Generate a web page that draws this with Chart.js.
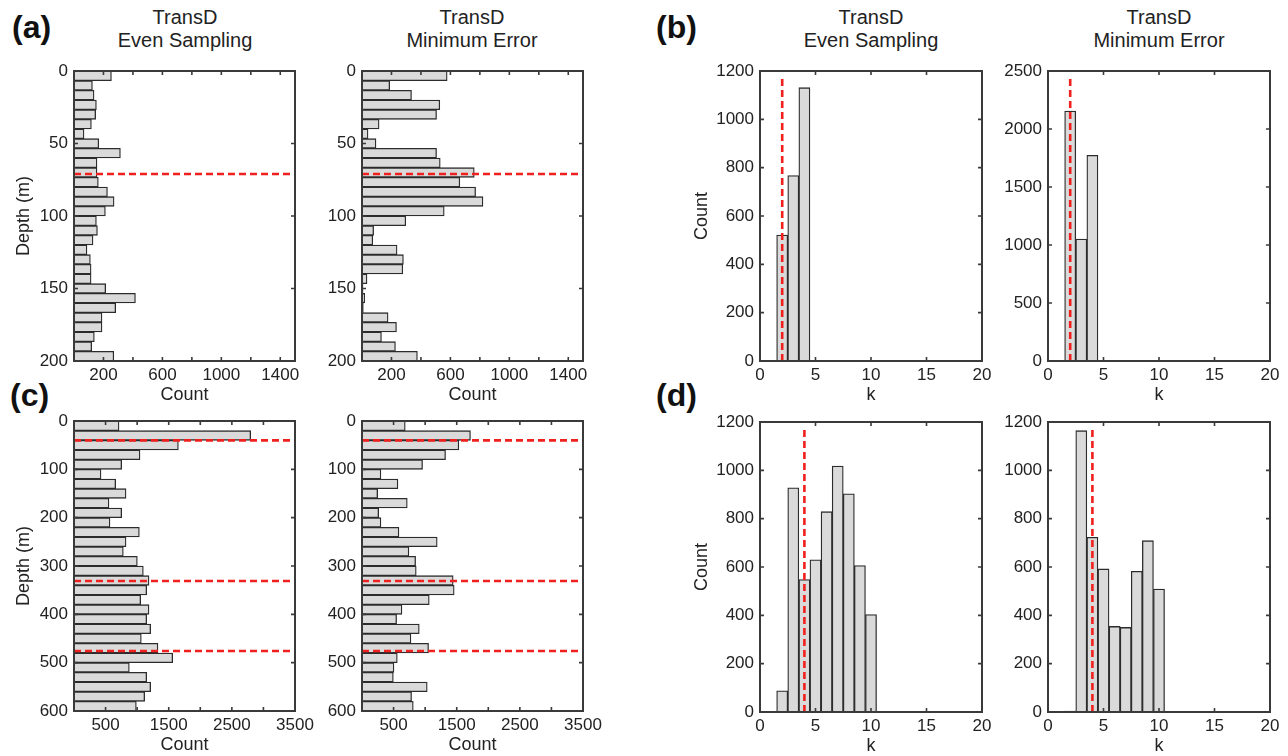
<!doctype html>
<html lang="en-US">

<head>
    <meta charset="UTF-8" />
    <title>TransD histograms</title>
    <script src="https://cdn.jsdelivr.net/npm/chart.js"></script>
    <style>
        body { margin: 0; background: #fff; }
        #fig { position: relative; width: 1288px; height: 756px; background: #fff; overflow: hidden;
               font-family: 'Liberation Sans', Arial, sans-serif; color: #222; }
        #fig canvas { position: absolute; }
        .lab { position: absolute; font-weight: bold; font-size: 32px; line-height: 36px; color: #111; }
        .ttl { position: absolute; top: 6px; transform: translateX(-50%); font-size: 20px;
               line-height: 23px; text-align: center; white-space: nowrap; }
    </style>
</head>

<body>
    <div id="fig">
        <div class="lab" style="left:12px;top:9px">(a)</div>
        <div class="lab" style="left:656px;top:9px">(b)</div>
        <div class="lab" style="left:10px;top:377px">(c)</div>
        <div class="lab" style="left:656px;top:377px">(d)</div>
        <div class="ttl" style="left:185px">TransD<br>Even Sampling</div>
        <div class="ttl" style="left:472px">TransD<br>Minimum Error</div>
        <div class="ttl" style="left:871px">TransD<br>Even Sampling</div>
        <div class="ttl" style="left:1159px">TransD<br>Minimum Error</div>
    </div>

    <script>
        // (a) depth histograms, 0-200 m, 30 bins (bin centres)
        const depthBinsA = [3.33, 10, 16.67, 23.33, 30, 36.67, 43.33, 50, 56.67, 63.33,
            70, 76.67, 83.33, 90, 96.67, 103.33, 110, 116.67, 123.33, 130,
            136.67, 143.33, 150, 156.67, 163.33, 170, 176.67, 183.33, 190, 196.67];
        const evenCountsA = [254, 125, 136, 152, 147, 118, 68, 168, 315, 156,
            156, 165, 227, 272, 213, 152, 159, 129, 88, 111,
            116, 116, 215, 417, 283, 190, 190, 138, 120, 270];
        const minErrCountsA = [578, 188, 336, 528, 506, 116, 41, 95, 506, 531,
            762, 664, 771, 821, 558, 297, 79, 73, 238, 281,
            277, 34, 7, 18, 9, 177, 234, 132, 227, 376];
        const interfacesA = [71];

        // (c) depth histograms, 0-600 m, 30 bins
        const depthBinsC = [10, 30, 50, 70, 90, 110, 130, 150, 170, 190,
            210, 230, 250, 270, 290, 310, 330, 350, 370, 390,
            410, 430, 450, 470, 490, 510, 530, 550, 570, 590];
        const evenCountsC = [713, 2798, 1653, 1045, 755, 428, 660, 824, 554, 755,
            570, 1035, 824, 781, 1003, 1098, 1188, 1151, 1056, 1188,
            1151, 1214, 1066, 1330, 1563, 876, 1151, 1214, 1119, 987];
        const minErrCountsC = [685, 1718, 1534, 1323, 959, 300, 569, 248, 717, 264,
            300, 585, 1191, 743, 849, 859, 1444, 1460, 1065, 633,
            548, 907, 775, 1054, 559, 506, 496, 1033, 785, 812];
        const interfacesC = [40, 331, 476];

        // (b) and (d) number of layers k
        const kBinsB = [2, 3, 4];
        const evenCountsB = [521, 767, 1131];
        const minErrCountsB = [2155, 1052, 1773];
        const trueKB = 2;

        const kBinsD = [2, 3, 4, 5, 6, 7, 8, 9, 10];
        const evenCountsD = [88, 928, 548, 630, 829, 1018, 903, 606, 403];
        const minErrCountsD = [4, 1164, 723, 592, 354, 350, 582, 709, 509];
        const trueKD = 4;

        const FONT = "'Liberation Sans', Arial, sans-serif";
        const TXT = '#222';
        const RED = '#f0201e';
        const L = 70, T = 14, R = 25, B = 48;

        // box round the plot with inward ticks on all four sides
        const framePlugin = {
            id: 'frame',
            afterDatasetsDraw(chart) {
                const { ctx, chartArea: a, scales: { x, y } } = chart;
                ctx.save();
                ctx.strokeStyle = '#3a3a3a';
                ctx.lineWidth = 1.6;
                ctx.beginPath();
                for (let t of x.ticks) {
                    let px = x.getPixelForValue(t.value);
                    ctx.moveTo(px, a.bottom); ctx.lineTo(px, a.bottom - 4);
                    ctx.moveTo(px, a.top); ctx.lineTo(px, a.top + 4);
                }
                for (let t of y.ticks) {
                    let py = y.getPixelForValue(t.value);
                    ctx.moveTo(a.left, py); ctx.lineTo(a.left + 4, py);
                    ctx.moveTo(a.right, py); ctx.lineTo(a.right - 4, py);
                }
                ctx.stroke();
                ctx.lineWidth = 2;
                ctx.strokeRect(a.left, a.top, a.right - a.left, a.bottom - a.top);
                ctx.restore();
            },
        };

        function axis(o) {
            return {
                type: 'linear',
                min: o.min,
                max: o.max,
                offset: false,
                reverse: !!o.reverse,
                grid: { display: false, drawTicks: false, offset: false },
                border: { display: false },
                ticks: {
                    stepSize: o.step,
                    includeBounds: false,
                    autoSkip: false,
                    maxRotation: 0,
                    padding: o.pad,
                    color: TXT,
                    font: { family: FONT, size: 17 },
                    callback: o.label || ((v) => String(v)),
                },
                title: {
                    display: !!o.title,
                    text: o.title,
                    color: TXT,
                    font: { family: FONT, size: 18 },
                    padding: o.titlePad,
                },
                afterFit: o.fit,
            };
        }

        function xAxis(o) {
            return axis(Object.assign({
                pad: 4,
                titlePad: { top: 0, bottom: 3 },
                fit: (s) => { s.height = B; s.paddingLeft = 0; s.paddingRight = 0; },
            }, o));
        }

        function yAxis(o) {
            return axis(Object.assign({
                pad: 6,
                fit: (s) => { s.width = L; s.paddingTop = 0; s.paddingBottom = 0; },
            }, o));
        }

        function barSet(data, horizontal) {
            return {
                type: 'bar',
                indexAxis: horizontal ? 'y' : 'x',
                data: data,
                backgroundColor: '#dadada',
                borderColor: '#2c2c2c',
                borderWidth: 1.3,
                borderSkipped: false,
                barPercentage: 1,
                categoryPercentage: 1,
                order: 2,
            };
        }

        function redLine(pts) {
            return {
                type: 'line',
                data: pts,
                borderColor: RED,
                borderWidth: 2.6,
                borderDash: [7, 4],
                pointRadius: 0,
                fill: false,
                order: 1,
            };
        }

        function makePanel(left, top, w, h, datasets, scales) {
            let c = document.createElement('canvas');
            c.width = w + L + R;
            c.height = h + T + B;
            c.style.left = left - L + 'px';
            c.style.top = top - T + 'px';
            document.getElementById('fig').appendChild(c);
            new Chart(c, {
                type: 'bar',
                data: { datasets: datasets },
                options: {
                    responsive: false,
                    animation: false,
                    events: [],
                    layout: { padding: { left: 0, top: T, right: R, bottom: 0 } },
                    plugins: { legend: { display: false }, tooltip: { enabled: false } },
                    scales: scales,
                },
                plugins: [framePlugin],
            });
        }

        // depth panels: horizontal bars against a reversed depth axis
        function depthPanel(left, top, bins, counts, lines, xmax, xstep, ymax, ystep, ytitle) {
            let sets = [barSet(bins.map((d, i) => ({ x: counts[i], y: d })), true)];
            for (let z of lines) sets.push(redLine([{ x: 0, y: z }, { x: xmax, y: z }]));
            makePanel(left, top, 221, 290, sets, {
                x: xAxis({
                    min: 0, max: xmax, step: xstep, title: 'Count',
                    label: (v) => ((v / xstep) % 2 === 1 ? String(v) : ''),
                }),
                y: yAxis({
                    min: 0, max: ymax, step: ystep, reverse: true, title: ytitle,
                    titlePad: { top: 9, bottom: 0 },
                }),
            });
        }

        // k panels: vertical bars
        function kPanel(left, top, bins, counts, trueK, ymax, ystep, ytitle) {
            let sets = [
                barSet(bins.map((k, i) => ({ x: k, y: counts[i] })), false),
                redLine([{ x: trueK, y: 0 }, { x: trueK, y: ymax * 0.973 }]),
            ];
            makePanel(left, top, 222, 290, sets, {
                x: xAxis({ min: 0, max: 20, step: 5, title: 'k' }),
                y: yAxis({
                    min: 0, max: ymax, step: ystep, title: ytitle,
                    titlePad: { top: 1, bottom: 0 },
                }),
            });
        }

        depthPanel(74, 71, depthBinsA, evenCountsA, interfacesA, 1500, 200, 200, 50, 'Depth (m)');
        depthPanel(362, 71, depthBinsA, minErrCountsA, interfacesA, 1500, 200, 200, 50, '');
        depthPanel(74, 421, depthBinsC, evenCountsC, interfacesC, 3500, 500, 600, 100, 'Depth (m)');
        depthPanel(362, 421, depthBinsC, minErrCountsC, interfacesC, 3500, 500, 600, 100, '');

        kPanel(760, 71, kBinsB, evenCountsB, trueKB, 1200, 200, 'Count');
        kPanel(1048, 71, kBinsB, minErrCountsB, trueKB, 2500, 500, '');
        kPanel(760, 422, kBinsD, evenCountsD, trueKD, 1200, 200, 'Count');
        kPanel(1048, 422, kBinsD, minErrCountsD, trueKD, 1200, 200, '');
    </script>
</body>

</html>
